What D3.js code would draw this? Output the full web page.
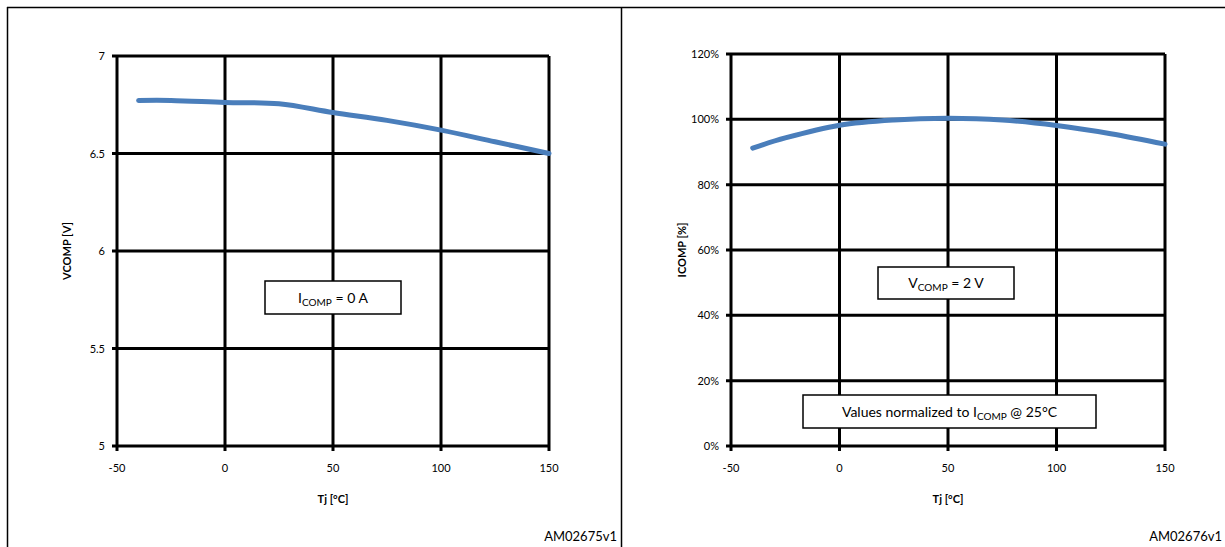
<!DOCTYPE html>
<html>
<head>
<meta charset="utf-8">
<script src="https://cdn.jsdelivr.net/npm/d3@7"></script>
<style>
  body { margin: 0; background: #fff; }
  text { font-family: Lato, "Open Sans", sans-serif; fill: #000; }
</style>
</head>
<body>
<div id="chart"></div>
<script>
// shared x axis
const tj = [-40, -25, 0, 25, 50, 75, 100, 125, 150];
const xTicks = [-50, 0, 50, 100, 150];

// left chart: VCOMP vs Tj
const vcomp = [6.772, 6.772, 6.762, 6.755, 6.71, 6.67, 6.62, 6.56, 6.50];
const vTicks = [5, 5.5, 6, 6.5, 7];
const vTickLabels = ["5", "5.5", "6", "6.5", "7"];

// right chart: ICOMP normalized vs Tj
const icomp = [91.2, 94.3, 98.2, 99.8, 100.3, 99.8, 98.1, 95.6, 92.4];
const iTicks = [0, 20, 40, 60, 80, 100, 120];
const iTickLabels = ["0%", "20%", "40%", "60%", "80%", "100%", "120%"];

const W = 1225, H = 547;
const svg = d3.select("#chart").append("svg")
  .attr("width", W).attr("height", H);

// frame
svg.append("line").attr("x1", 7).attr("x2", W).attr("y1", 7.5).attr("y2", 7.5)
  .attr("stroke", "#000").attr("stroke-width", 1.5);
svg.append("line").attr("x1", 7.5).attr("x2", 7.5).attr("y1", 7).attr("y2", H)
  .attr("stroke", "#000").attr("stroke-width", 1.5);
svg.append("line").attr("x1", 621.5).attr("x2", 621.5).attr("y1", 7).attr("y2", H)
  .attr("stroke", "#000").attr("stroke-width", 1.5);

function drawChart(opt) {
  const x = d3.scaleLinear().domain([-50, 150]).range(opt.xr);
  const y = d3.scaleLinear().domain(opt.yd).range(opt.yr);
  const g = svg.append("g");

  // grid
  g.selectAll(".hg").data(opt.yTicks).enter().append("line")
    .attr("x1", opt.xr[0] - 5).attr("x2", opt.xr[1])
    .attr("y1", d => y(d)).attr("y2", d => y(d))
    .attr("stroke", "#000").attr("stroke-width", 3);
  g.selectAll(".vg").data(xTicks).enter().append("line")
    .attr("x1", d => x(d)).attr("x2", d => x(d))
    .attr("y1", opt.yr[1]).attr("y2", opt.yr[0] + 5)
    .attr("stroke", "#000").attr("stroke-width", 3);

  // tick labels
  g.selectAll(".yl").data(opt.yTicks).enter().append("text")
    .attr("x", opt.xr[0] - 12).attr("y", d => y(d) + 4)
    .attr("text-anchor", "end").style("font-size", "11px")
    .text((d, i) => opt.yLabels[i]);
  g.selectAll(".xl").data(xTicks).enter().append("text")
    .attr("x", d => x(d)).attr("y", opt.yr[0] + 26)
    .attr("text-anchor", "middle").style("font-size", "11px")
    .text(d => d);

  // axis titles
  g.append("text")
    .attr("x", (opt.xr[0] + opt.xr[1]) / 2).attr("y", opt.yr[0] + 57)
    .attr("text-anchor", "middle").style("font-size", "11px").style("font-weight", "bold")
    .text("Tj [°C]");
  g.append("text")
    .attr("transform", `translate(${opt.yTitleX},${(opt.yr[0] + opt.yr[1]) / 2}) rotate(-90)`)
    .attr("text-anchor", "middle").style("font-size", "11px").style("font-weight", "bold")
    .text(opt.yTitle);

  // curve
  const line = d3.line()
    .x((d, i) => x(tj[i]))
    .y(d => y(d))
    .curve(d3.curveCatmullRom);
  g.append("path").datum(opt.values)
    .attr("d", line)
    .attr("fill", "none")
    .attr("stroke", "#4a7ebb")
    .attr("stroke-width", 5)
    .attr("stroke-linecap", "round");

  // annotation boxes
  opt.boxes.forEach(b => {
    g.append("rect").attr("x", b.x).attr("y", b.y).attr("width", b.w).attr("height", b.h)
      .attr("fill", "#fff").attr("stroke", "#000").attr("stroke-width", 1.5);
    const t = g.append("text").attr("x", b.x + b.w / 2).attr("y", b.y + b.h / 2 + 5)
      .attr("text-anchor", "middle").style("font-size", "14px");
    b.parts.forEach(p => {
      const s = t.append("tspan").text(p.t);
      if (p.sub) s.style("font-size", "10px").attr("dy", 3);
      else if (p.after) s.attr("dy", -3);
    });
  });

  g.append("text")
    .attr("x", opt.codeX).attr("y", 541)
    .attr("text-anchor", "end").style("font-size", "13px")
    .text(opt.code);
}

drawChart({
  xr: [117, 549], yd: [5, 7], yr: [446, 56],
  yTicks: vTicks, yLabels: vTickLabels,
  values: vcomp, yTitle: "VCOMP [V]", yTitleX: 71,
  code: "AM02675v1", codeX: 617,
  boxes: [{ x: 265, y: 281, w: 136, h: 33,
    parts: [{ t: "I" }, { t: "COMP", sub: true }, { t: " = 0 A", after: true }] }]
});

drawChart({
  xr: [731, 1165], yd: [0, 120], yr: [446, 54],
  yTicks: iTicks, yLabels: iTickLabels,
  values: icomp, yTitle: "ICOMP [%]", yTitleX: 686,
  code: "AM02676v1", codeX: 1222,
  boxes: [
    { x: 878, y: 267, w: 136, h: 32,
      parts: [{ t: "V" }, { t: "COMP", sub: true }, { t: " = 2 V", after: true }] },
    { x: 803, y: 395, w: 293, h: 33,
      parts: [{ t: "Values normalized  to I" }, { t: "COMP", sub: true }, { t: " @ 25°C", after: true }] }
  ]
});
</script>
</body>
</html>
